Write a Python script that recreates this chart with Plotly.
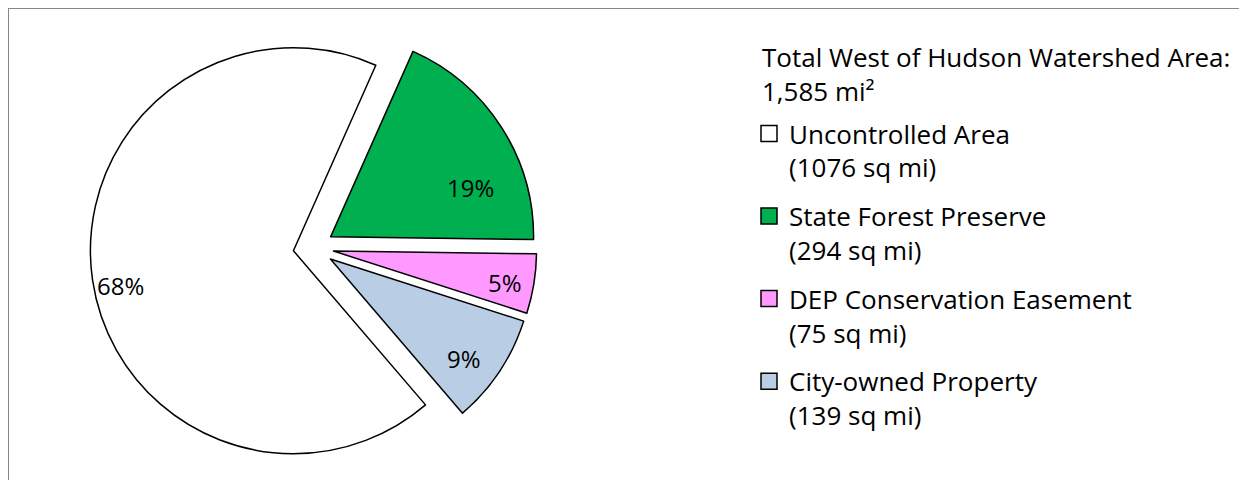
import math
import plotly.graph_objects as go

# ---- data ----
categories = ["Uncontrolled Area", "State Forest Preserve",
              "DEP Conservation Easement", "City-owned Property"]
areas_sq_mi = [1076, 294, 75, 139]
title_lines = ["Total West of Hudson Watershed Area:", "1,585 mi²"]

# ---- style ----
colors = ["#FFFFFF", "#00B050", "#FF99FF", "#B9CDE5"]
pull = 0.1
rotation = 139.4
label_r = [0.87, 0.73, 0.86, 0.82]        # label distance (fraction of radius)
label_dang = [-3.0, 13.3, 1.2, 3.1]       # label angle offset from slice middle (deg)

W, H = 1247, 480
FONT = "Open Sans"
FS_PCT = 24
FS_LEG = 26

# pie domain (pixels in figure coordinates)
dom_x = (82.2, 528.8)
dom_y_top = (16.5, 463.1)

legend_labels = [f"{c}<br>({v} sq mi)" for c, v in zip(categories, areas_sq_mi)]

fig = go.Figure()
fig.add_trace(go.Pie(
    labels=categories,
    values=areas_sq_mi,
    sort=False,
    direction="clockwise",
    rotation=rotation,
    pull=[pull] * len(areas_sq_mi),
    marker=dict(colors=colors, line=dict(color="black", width=1.5)),
    textinfo="none",
    showlegend=False,
    domain=dict(x=[dom_x[0] / W, dom_x[1] / W],
                y=[1 - dom_y_top[1] / H, 1 - dom_y_top[0] / H]),
    hoverinfo="label+value+percent",
))

# legend entries (one group per category so that spacing can be set)
for i, (lab, col) in enumerate(zip(legend_labels, colors)):
    fig.add_trace(go.Scatter(
        x=[None], y=[None], mode="markers", name=lab,
        legendgroup=f"g{i}", showlegend=True,
        marker=dict(symbol="square", size=16, color=col,
                    line=dict(color="black", width=1.5)),
        hoverinfo="skip",
    ))

# percentage labels, placed from the slice geometry
total = sum(areas_sq_mi)
size = min(dom_x[1] - dom_x[0], dom_y_top[1] - dom_y_top[0])
r = size / (2 * (1 + pull))
cx = (dom_x[0] + dom_x[1]) / 2
cy = (dom_y_top[0] + dom_y_top[1]) / 2
annotations = []
start = rotation
for i, v in enumerate(areas_sq_mi):
    span = v / total * 360
    mid = start + span / 2
    ax = cx + pull * r * math.sin(math.radians(mid))
    ay = cy - pull * r * math.cos(math.radians(mid))
    la = mid + label_dang[i]
    lx = ax + label_r[i] * r * math.sin(math.radians(la))
    ly = ay - label_r[i] * r * math.cos(math.radians(la))
    annotations.append(dict(
        x=lx / W, y=1 - ly / H, xref="paper", yref="paper",
        text=f"{round(v / total * 100)}%", showarrow=False,
        xanchor="center", yanchor="middle",
        font=dict(family=FONT, size=FS_PCT, color="black"),
    ))
    start += span

# legend heading
annotations.append(dict(
    x=752 / W, y=1 - 29 / H, xref="paper", yref="paper",
    text="<br>".join(title_lines), showarrow=False, align="left",
    xanchor="left", yanchor="top",
    font=dict(family=FONT, size=FS_LEG, color="black"),
))

fig.update_layout(
    width=W, height=H,
    margin=dict(l=0, r=0, t=0, b=0),
    paper_bgcolor="white",
    plot_bgcolor="white",
    font=dict(family=FONT, size=FS_LEG, color="black"),
    xaxis=dict(visible=False),
    yaxis=dict(visible=False),
    showlegend=True,
    legend=dict(
        x=741 / W, xanchor="left",
        y=1 - 102 / H, yanchor="top",
        font=dict(family=FONT, size=FS_LEG, color="black"),
        bgcolor="rgba(0,0,0,0)",
        traceorder="grouped",
        tracegroupgap=12,
        valign="top",
    ),
    annotations=annotations,
    shapes=[dict(type="rect", xref="paper", yref="paper",
                 x0=0.0, x1=1.02, y0=-0.02, y1=1.0,
                 line=dict(color="#868686", width=2), fillcolor="rgba(0,0,0,0)", layer="below")],
)

fig.write_html("out.html")
